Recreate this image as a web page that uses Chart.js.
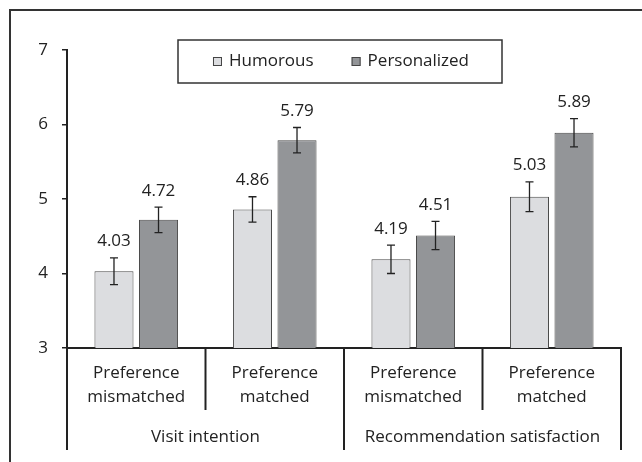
<!DOCTYPE html>
<html>
<head>
<meta charset="utf-8">
<script src="https://cdn.jsdelivr.net/npm/chart.js@4"></script>
<style>
  html, body { margin: 0; padding: 0; background: #fff; }
  #wrap { position: relative; width: 642px; height: 462px; overflow: hidden; }
  #frame { position: absolute; left: 9px; top: 9px; width: 700px; height: 500px;
           border-top: 2px solid #333; border-left: 2px solid #333; }
  canvas { position: absolute; left: 0; top: 0; }
</style>
</head>
<body>
<div id="wrap">
  <div id="frame"></div>
  <canvas id="myChart" width="642" height="462"></canvas>
</div>
<script>
// Chart data
const categories = [
    ['Preference', 'mismatched'],
    ['Preference', 'matched'],
    ['Preference', 'mismatched'],
    ['Preference', 'matched']
];
const groups = ['Visit intention', 'Recommendation satisfaction'];
const humorous = [4.03, 4.86, 4.19, 5.03];
const personalized = [4.72, 5.79, 4.51, 5.89];
const humorousErr = [0.18, 0.17, 0.19, 0.20];
const personalizedErr = [0.17, 0.17, 0.19, 0.19];
const yMin = 3;
const yMax = 7;

const FONT = 'Open Sans';
const INK = '#222';

// Error bars and value labels above them
const errorBars = {
    id: 'errorBars',
    afterDatasetsDraw(chart) {
        const ctx = chart.ctx;
        const y = chart.scales.y;
        ctx.save();
        chart.data.datasets.forEach((ds, di) => {
            const meta = chart.getDatasetMeta(di);
            meta.data.forEach((bar, i) => {
                const v = ds.data[i];
                const e = ds.errors[i];
                const top = y.getPixelForValue(v + e);
                const bot = y.getPixelForValue(v - e);
                ctx.strokeStyle = INK;
                ctx.lineWidth = 1.3;
                ctx.beginPath();
                ctx.moveTo(bar.x, top); ctx.lineTo(bar.x, bot);
                ctx.moveTo(bar.x - 4, top); ctx.lineTo(bar.x + 4, top);
                ctx.moveTo(bar.x - 4, bot); ctx.lineTo(bar.x + 4, bot);
                ctx.stroke();
                ctx.fillStyle = INK;
                ctx.font = '17px "' + FONT + '"';
                ctx.textAlign = 'center';
                ctx.textBaseline = 'middle';
                ctx.fillText(v.toFixed(2), bar.x, top - 16.5);
            });
        });
        ctx.restore();
    }
};

// Vertical dividers between categories and groups
const dividers = {
    id: 'dividers',
    afterDraw(chart) {
        const ctx = chart.ctx;
        const x = chart.scales.x;
        const x2 = chart.scales.x2;
        const n = categories.length;
        const half = (x.getPixelForValue(1) - x.getPixelForValue(0)) / 2;
        ctx.save();
        ctx.strokeStyle = INK;
        ctx.lineWidth = 2;
        for (let i = 0; i <= n; i++) {
            const px = i < n ? x.getPixelForValue(i) - half : x.getPixelForValue(n - 1) + half;
            const end = i % 2 ? x.bottom : x2.bottom;
            ctx.beginPath();
            ctx.moveTo(px, x.top);
            ctx.lineTo(px, end);
            ctx.stroke();
        }
        ctx.restore();
    }
};

// Boxed legend inside the plot
const boxLegend = {
    id: 'boxLegend',
    afterDraw(chart) {
        const ctx = chart.ctx;
        const bx = 178, by = 40, bw = 324, bh = 43;
        ctx.save();
        ctx.strokeStyle = '#333';
        ctx.lineWidth = 1.5;
        ctx.strokeRect(bx, by, bw, bh);
        ctx.font = '17px "' + FONT + '"';
        ctx.textBaseline = 'middle';
        ctx.textAlign = 'left';
        const sw = 9, gap = 7, spacing = 38;
        const items = chart.data.datasets.map(ds => ({ label: ds.label, color: ds.backgroundColor, w: ctx.measureText(ds.label).width }));
        let total = 0;
        items.forEach((it, i) => { total += sw + gap + it.w + (i ? spacing : 0); });
        let cx = bx + bw / 2 - total / 2 + 1;
        const cy = by + bh / 2;
        items.forEach(it => {
            ctx.fillStyle = it.color;
            ctx.fillRect(cx, cy - sw / 2, sw, sw);
            ctx.strokeStyle = '#444';
            ctx.lineWidth = 1;
            ctx.strokeRect(cx + 0.5, cy - sw / 2 + 0.5, sw - 1, sw - 1);
            ctx.fillStyle = INK;
            ctx.fillText(it.label, cx + sw + gap, cy);
            cx += sw + gap + it.w + spacing;
        });
        ctx.restore();
    }
};

const ctx = document.getElementById('myChart').getContext('2d');

new Chart(ctx, {
    type: 'bar',
    data: {
        labels: categories,
        datasets: [
            {
                label: 'Humorous',
                data: humorous,
                errors: humorousErr,
                backgroundColor: '#dcdde0',
                borderColor: '#4a4a4a',
                borderWidth: 1
            },
            {
                label: 'Personalized',
                data: personalized,
                errors: personalizedErr,
                backgroundColor: '#939598',
                borderColor: '#4a4a4a',
                borderWidth: 1
            }
        ]
    },
    options: {
        responsive: false,
        animation: false,
        devicePixelRatio: 1,
        layout: { padding: { top: 50, right: 21, bottom: 12, left: 0 } },
        datasets: {
            bar: { categoryPercentage: 0.643, barPercentage: 0.877 }
        },
        plugins: {
            legend: { display: false },
            tooltip: { enabled: false }
        },
        scales: {
            y: {
                min: yMin,
                max: yMax,
                afterFit: s => { s.width = 67; },
                ticks: {
                    stepSize: 1,
                    padding: 14,
                    color: INK,
                    font: { family: FONT, size: 17 }
                },
                grid: { drawOnChartArea: false, tickLength: 5, color: INK, lineWidth: 1.5 },
                border: { color: INK, width: 2 }
            },
            x: {
                weight: 0,
                afterFit: s => { s.height = 62; },
                ticks: {
                    padding: 13,
                    autoSkip: false,
                    maxRotation: 0,
                    color: INK,
                    font: { family: FONT, size: 17, lineHeight: 24 / 17 }
                },
                grid: { display: false, drawTicks: false },
                border: { color: INK, width: 2 }
            },
            x2: {
                type: 'category',
                position: 'bottom',
                labels: groups,
                offset: true,
                weight: 1,
                afterFit: s => { s.height = 40; },
                ticks: {
                    padding: 15,
                    autoSkip: false,
                    maxRotation: 0,
                    color: INK,
                    font: { family: FONT, size: 17, lineHeight: 24 / 17 }
                },
                grid: { display: false, drawTicks: false },
                border: { display: false }
            }
        }
    },
    plugins: [errorBars, dividers, boxLegend]
});
</script>
</body>
</html>
